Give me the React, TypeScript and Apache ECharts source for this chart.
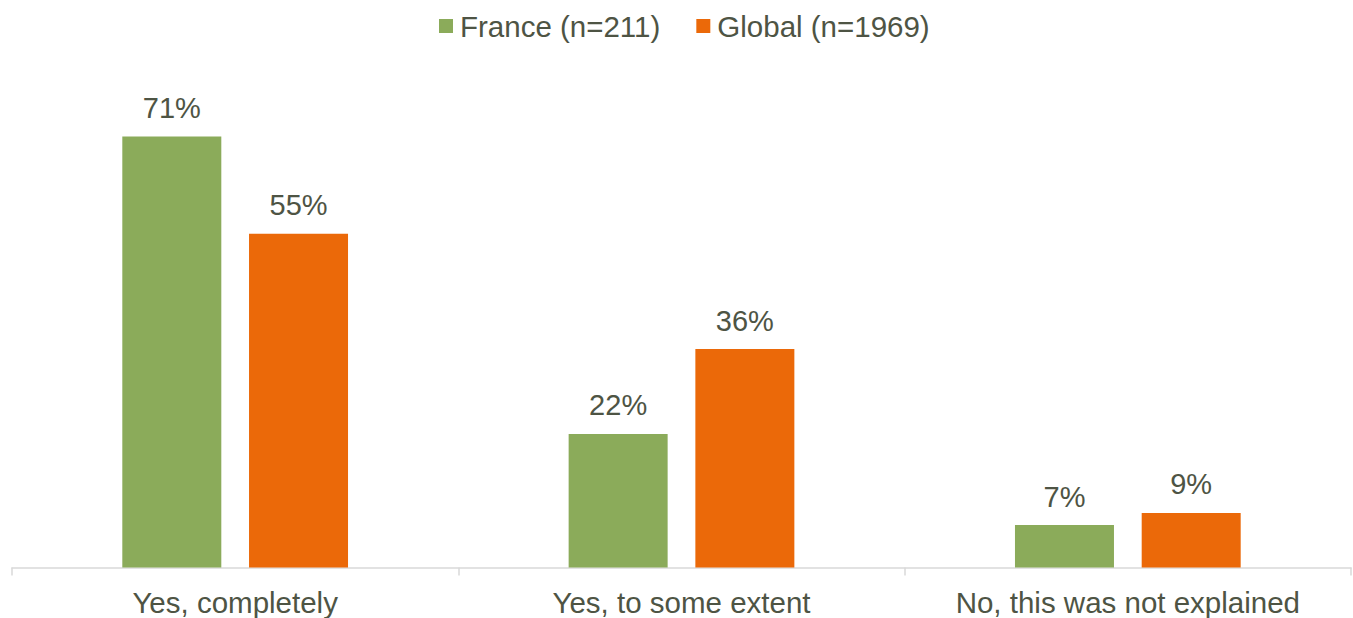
import React, { useEffect, useRef } from "react";
import * as echarts from "echarts";

const categories = ["Yes, completely", "Yes, to some extent", "No, this was not explained"];
const franceValues = [71, 22, 7];
const globalValues = [55, 36, 9];
const seriesNames = ["France (n=211)", "Global (n=1969)"];

const textColor = "#4e5444";

export default function App() {
  const ref = useRef<HTMLDivElement>(null);
  useEffect(() => {
    const chart = echarts.init(ref.current!, null, { renderer: "svg" });
    chart.setOption({
      animation: false,
      textStyle: { fontFamily: "'Liberation Sans', Arial, sans-serif" },
      legend: {
        top: 6,
        left: 434,
        itemWidth: 14,
        itemHeight: 14,
        itemGap: 36,
        icon: "rect",
        textStyle: { fontSize: 29.5, color: textColor, padding: [0, 0, 0, 2] },
        data: seriesNames,
      },
      grid: { left: 12, right: 2, top: 82, bottom: 50.5, containLabel: false },
      xAxis: {
        type: "category",
        data: categories,
        axisLine: { lineStyle: { color: "#d9d9d9", width: 1.5 } },
        axisTick: { show: true, interval: 0, length: 8, lineStyle: { color: "#d9d9d9", width: 1.5 } },
        axisLabel: { fontSize: 29.5, color: textColor, margin: 20, interval: 0 },
      },
      yAxis: {
        type: "value",
        min: 0,
        max: 80,
        show: false,
        splitLine: { show: false },
      },
      series: [
        {
          name: seriesNames[0],
          type: "bar",
          data: franceValues,
          barWidth: 99,
          barGap: "28%",
          itemStyle: { color: "#8bab5a" },
          label: {
            show: true,
            position: "top",
            distance: 14,
            formatter: "{c}%",
            fontSize: 29,
            color: textColor,
          },
        },
        {
          name: seriesNames[1],
          type: "bar",
          data: globalValues,
          barWidth: 99,
          barGap: "28%",
          itemStyle: { color: "#eb6909" },
          label: {
            show: true,
            position: "top",
            distance: 14,
            formatter: "{c}%",
            fontSize: 29,
            color: textColor,
          },
        },
      ],
    });
    return () => chart.dispose();
  }, []);
  return (
    <div
      ref={ref}
      style={{ position: "fixed", left: 0, top: 0, width: 1353, height: 618, background: "#fff" }}
    />
  );
}
